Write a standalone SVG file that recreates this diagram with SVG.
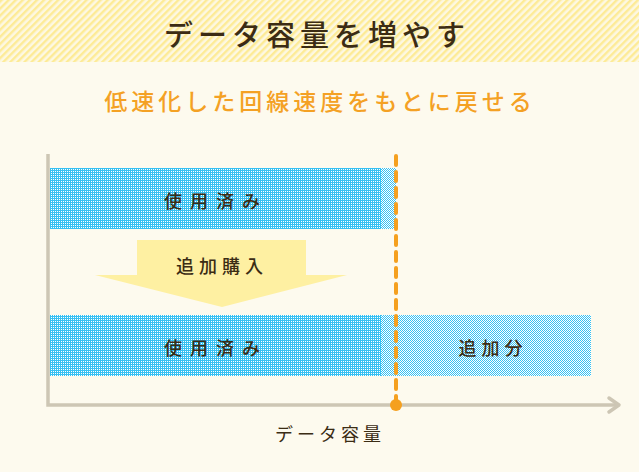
<svg xmlns="http://www.w3.org/2000/svg" width="639" height="472" viewBox="0 0 639 472">
<defs>
<pattern id="stripes" width="5" height="5" patternUnits="userSpaceOnUse" patternTransform="rotate(45)">
<rect width="5" height="5" fill="#fdf8e2"/>
<rect width="2.4" height="5" fill="#fdeb96"/>
</pattern>
<pattern id="dots" width="2" height="2" patternUnits="userSpaceOnUse">
<rect width="2" height="2" fill="#36c0f2"/>
<rect x="1" y="1" width="1" height="1" fill="#ffffff"/>
</pattern>
<pattern id="checker" width="2" height="2" patternUnits="userSpaceOnUse">
<rect width="2" height="2" fill="#ffffff"/>
<rect x="0" y="0" width="1" height="1" fill="#36c0f2"/>
<rect x="1" y="1" width="1" height="1" fill="#36c0f2"/>
</pattern>
</defs>
<style>
text { font-family: "Noto Sans CJK JP", "Noto Sans", sans-serif; fill: #3b2c14; }
.title { font-size: 29px; font-weight: 500; letter-spacing: 5px; }
.sub { font-size: 23px; fill: #f4a124; letter-spacing: 4px; font-weight: 500; }
.lbl { font-size: 18px; font-weight: 500; }
.axis { stroke: #cdc6b4; stroke-width: 3.5; fill: none; }
</style>
<rect width="639" height="472" fill="#fdfaee"/>
<rect width="639" height="62" fill="url(#stripes)"/>
<text class="title" x="317" y="46" text-anchor="middle">データ容量を増やす</text>
<text class="sub" x="320" y="110" text-anchor="middle">低速化した回線速度をもとに戻せる</text>

<g id="bar1">
<rect x="50" y="168" width="331" height="61" fill="url(#dots)"/>
<rect x="381" y="168" width="15" height="61" fill="url(#checker)"/>
<text class="lbl" x="216" y="208" text-anchor="middle" style="letter-spacing:8px">使用済み</text>
</g>

<g id="purchase-arrow">
<polygon points="137,240 306,240 306,275 347,275 222,307 95,275 137,275" fill="#fef0a2"/>
<text class="lbl" x="222" y="273" text-anchor="middle" style="letter-spacing:5px">追加購入</text>
</g>

<g id="bar2">
<rect x="50" y="315" width="331" height="61" fill="url(#dots)"/>
<text class="lbl" x="216" y="355" text-anchor="middle" style="letter-spacing:8px">使用済み</text>
</g>

<g id="added">
<rect x="381" y="315" width="210" height="61" fill="url(#checker)"/>
<text class="lbl" x="493" y="355" text-anchor="middle" style="letter-spacing:5px">追加分</text>
</g>

<g id="connectors">
<path class="axis" d="M48,154 V405 H619"/>
<path class="axis" d="M609,398 L619,405 L609,412" stroke-linecap="round" stroke-linejoin="round"/>
<line x1="396" y1="156" x2="396" y2="400" stroke="#f5a01f" stroke-width="4" stroke-linecap="round" stroke-dasharray="9,7"/>
<circle cx="396" cy="405" r="6" fill="#f5a01f"/>
</g>

<text class="lbl" x="330" y="441" text-anchor="middle" style="letter-spacing:4px;font-weight:normal">データ容量</text>
</svg>
